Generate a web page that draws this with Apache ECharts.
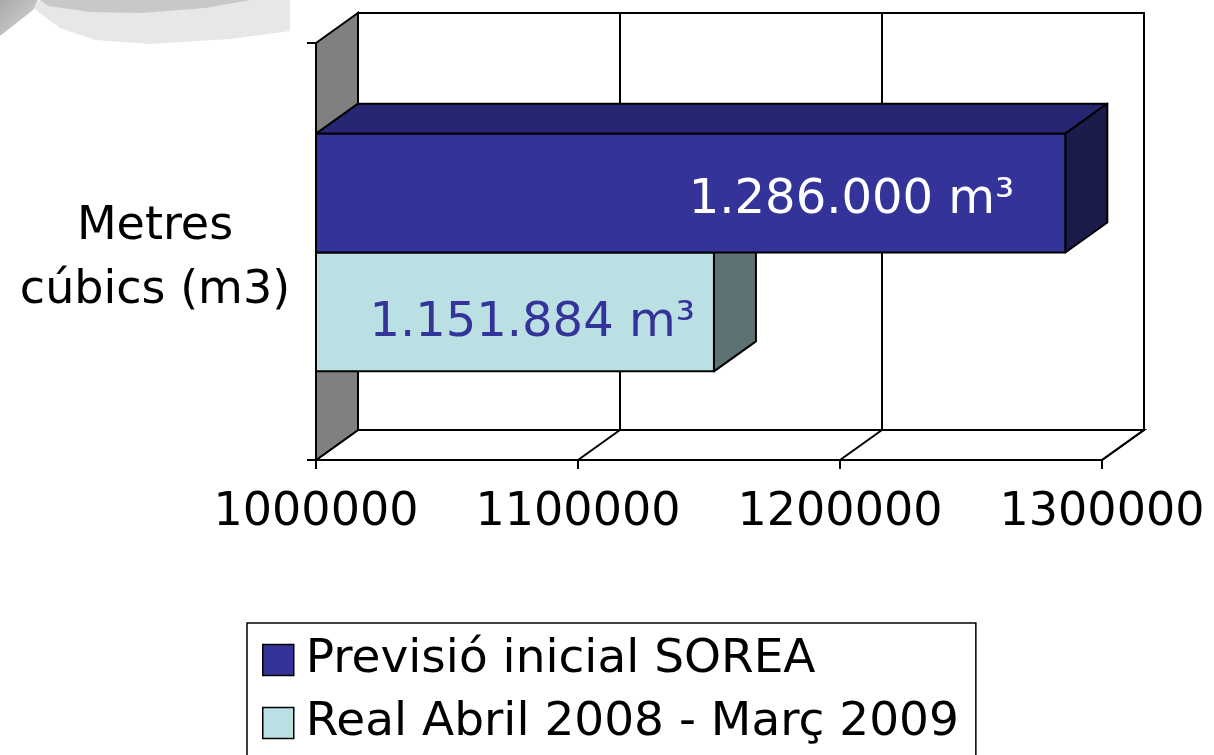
<!DOCTYPE html>
<html lang="ca">
<head>
<meta charset="UTF-8">
<title>Metres cúbics</title>
<script src="https://cdn.jsdelivr.net/npm/echarts@6/dist/echarts.min.js"></script>
<style>
  html, body { margin: 0; padding: 0; background: #fff; }
  #main { width: 1214px; height: 755px; }
</style>
</head>
<body>
<div id="main"></div>
<script>
// dades
var categories = ['Metres\ncúbics (m3)'];
var xTicks = [1000000, 1100000, 1200000, 1300000];
var seriesNames = ['Previsió inicial SOREA', 'Real Abril 2008 - Març 2009'];
var previsio = [1286000];
var real = [1151884];
var labelsPrevisio = ['1.286.000 m³'];
var labelsReal = ['1.151.884 m³'];

var FONT = 'DejaVu Sans';
var DX = 42, DY = -30;   // profunditat 3D
var BAR_FRAC = 0.285;    // alçada de cada barra / alçada de categoria

var myChart = echarts.init(document.getElementById('main'));

// parets, terra i línies de quadrícula en 3D
function renderFrame(params, api) {
    var v = api.value(0);
    var p = api.coord([v, 0]);
    var bandH = api.size([0, 1])[1];
    var top = p[1] - bandH / 2, bottom = p[1] + bandH / 2;
    var x0 = api.coord([xTicks[0], 0])[0];
    var x1 = api.coord([xTicks[xTicks.length - 1], 0])[0];
    var line = { stroke: '#000', lineWidth: 2, fill: null };
    var children = [];
    if (params.dataIndex === 0) {
        children.push({
            type: 'rect',
            shape: { x: x0 + DX, y: top + DY, width: x1 - x0, height: bandH },
            style: { fill: '#fff', stroke: '#000', lineWidth: 2 }
        });
        children.push({
            type: 'polygon',
            shape: { points: [[x0, bottom], [x0 + DX, bottom + DY], [x1 + DX, bottom + DY], [x1, bottom]] },
            style: { fill: '#fff', stroke: '#000', lineWidth: 2 }
        });
        children.push({
            type: 'polygon',
            shape: { points: [[x0, top], [x0 + DX, top + DY], [x0 + DX, bottom + DY], [x0, bottom]] },
            style: { fill: '#808080', stroke: '#000', lineWidth: 2 }
        });
    } else {
        children.push({
            type: 'line',
            shape: { x1: p[0] + DX, y1: top + DY, x2: p[0] + DX, y2: bottom + DY },
            style: line
        });
        children.push({
            type: 'line',
            shape: { x1: p[0], y1: bottom, x2: p[0] + DX, y2: bottom + DY },
            style: line
        });
    }
    return { type: 'group', children: children };
}

// barra 3D: side = -1 (a dalt del centre) o 1 (a sota)
function makeBarRenderer(side, colors, labels, labelColor, inset, labelDy) {
    return function (params, api) {
        var v = api.value(0);
        var c = api.coord([xTicks[0], api.value(1)]);
        var e = api.coord([v, api.value(1)]);
        var bandH = api.size([0, 1])[1];
        var h = bandH * BAR_FRAC;
        var yTop = side < 0 ? c[1] - h + 1 : c[1] + 1;
        var yBot = yTop + h;
        var xa = c[0], xb = e[0];
        var st = { stroke: '#000', lineWidth: 2, lineJoin: 'round' };
        return {
            type: 'group',
            children: [
                {
                    type: 'polygon',
                    shape: { points: [[xa, yTop], [xa + DX, yTop + DY], [xb + DX, yTop + DY], [xb, yTop]] },
                    style: Object.assign({ fill: colors[1] }, st)
                },
                {
                    type: 'polygon',
                    shape: { points: [[xb, yTop], [xb + DX, yTop + DY], [xb + DX, yBot + DY], [xb, yBot]] },
                    style: Object.assign({ fill: colors[2] }, st)
                },
                {
                    type: 'rect',
                    shape: { x: xa, y: yTop, width: xb - xa, height: h },
                    style: Object.assign({ fill: colors[0] }, st)
                },
                {
                    type: 'text',
                    style: {
                        text: labels[params.dataIndex],
                        x: xb - inset,
                        y: (yTop + yBot) / 2 + labelDy,
                        align: 'right',
                        verticalAlign: 'middle',
                        fill: labelColor,
                        font: '48px "' + FONT + '"'
                    }
                }
            ]
        };
    };
}

var option = {
    backgroundColor: '#ffffff',
    animation: false,
    textStyle: { fontFamily: FONT },
    graphic: [
        {
            type: 'polygon', z: 0,
            shape: { points: [[33, 8], [40, 0], [290, 0], [290, 31], [230, 39], [150, 44], [95, 40], [60, 28]] },
            style: { fill: '#e8e6e8' }
        },
        {
            type: 'polygon', z: 0,
            shape: { points: [[40, 0], [250, 0], [205, 8], [140, 13], [90, 12], [48, 6]] },
            style: { fill: '#c9c7c9' }
        },
        {
            type: 'polygon', z: 0,
            shape: { points: [[0, 0], [38, 0], [33, 10], [0, 36]] },
            style: {
                fill: new echarts.graphic.LinearGradient(0, 0, 1, 1, [
                    { offset: 0, color: '#a9a9a9' }, { offset: 1, color: '#d8d8d8' }
                ])
            }
        }
    ],
    grid: {
        left: 316,
        right: 112,
        top: 43,
        bottom: 295,
        containLabel: false
    },
    legend: {
        data: [
            { name: seriesNames[0], itemStyle: { color: '#333399', borderColor: '#000', borderWidth: 1.5 } },
            { name: seriesNames[1], itemStyle: { color: '#bbe0e3', borderColor: '#000', borderWidth: 1.5 } }
        ],
        orient: 'vertical',
        left: 247,
        top: 623,
        height: 180,
        padding: [13, 17, 30, 15],
        icon: 'rect',
        itemWidth: 31,
        itemHeight: 31,
        itemGap: 15,
        selectedMode: false,
        borderColor: '#000',
        borderWidth: 1.5,
        textStyle: {
            fontFamily: FONT,
            fontSize: 47,
            lineHeight: 48,
            color: '#000',
            padding: [0, 0, 0, 7]
        }
    },
    xAxis: {
        type: 'value',
        min: xTicks[0],
        max: xTicks[xTicks.length - 1],
        interval: 100000,
        axisLine: { show: true, lineStyle: { color: '#000', width: 2 } },
        axisTick: { show: true, length: 9, lineStyle: { color: '#000', width: 2 } },
        splitLine: { show: false },
        axisLabel: {
            fontFamily: FONT,
            fontSize: 46,
            color: '#000',
            margin: 30,
            formatter: function (v) { return String(v); }
        }
    },
    yAxis: {
        type: 'category',
        data: categories,
        axisLine: { show: true, lineStyle: { color: '#000', width: 2 } },
        axisTick: { show: true, length: 9, lineStyle: { color: '#000', width: 2 } },
        splitLine: { show: false },
        axisLabel: {
            color: '#000',
            align: 'center',
            margin: 161,
            formatter: function (v) {
                var parts = v.split('\n');
                return '{a|' + parts[0] + '}\n{b|' + parts[1] + '}';
            },
            rich: {
                a: { fontFamily: FONT, fontSize: 46, lineHeight: 79, color: '#000', align: 'center' },
                b: { fontFamily: FONT, fontSize: 46, lineHeight: 49, color: '#000', align: 'center' }
            }
        }
    },
    series: [
        {
            name: 'frame',
            type: 'custom',
            silent: true,
            z: 1,
            renderItem: renderFrame,
            data: xTicks.map(function (t) { return [t, 0]; })
        },
        {
            name: seriesNames[1],
            type: 'custom',
            z: 3,
            itemStyle: { color: '#bbe0e3' },
            renderItem: makeBarRenderer(1, ['#bbe0e3', '#8aa8aa', '#5f7273'], labelsReal, '#333399', 19, 12),
            data: real.map(function (v, i) { return [v, i]; })
        },
        {
            name: seriesNames[0],
            type: 'custom',
            z: 4,
            itemStyle: { color: '#333399' },
            renderItem: makeBarRenderer(-1, ['#333399', '#262672', '#1c1c4c'], labelsPrevisio, '#ffffff', 51, 7),
            data: previsio.map(function (v, i) { return [v, i]; })
        }
    ]
};

myChart.setOption(option);
</script>
</body>
</html>
